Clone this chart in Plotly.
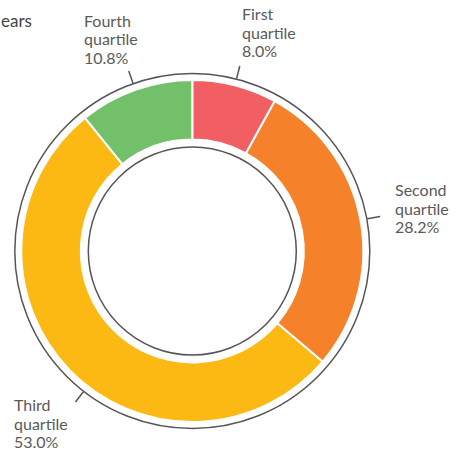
import math
import plotly.graph_objects as go

# ---- data ----
categories = ["First quartile", "Second quartile", "Third quartile", "Fourth quartile"]
shares = [8.0, 28.2, 53.0, 10.8]
colors = ["#F25F63", "#F5822A", "#FDB913", "#73C06B"]
title_fragment = "ears"

# ---- layout / style ----
W, H = 458, 456
CX, CY = 192.3, 251.0        # pie centre in px
R = 171.0                    # slice outer radius in px
HOLE = 0.652
R_OUTER_LINE = 177.5
R_INNER_LINE = 104.0
TICK_R0, TICK_R1 = 178.0, 191.0
LINE_COLOR = "#555555"
TEXT_COLOR = "#5a5a5a"
FONT = "Lato"
FS = 16
LINE_STEP = 18.5
# per label: angle tweak (deg), block left offset from tick end (px), first-baseline offset (px)
label_angle_tweak = [0, 0, -8, 0]
label_dx = [0, 13, -63, -47]
label_dy = [-47, -21, 8, -45]


def px(x):
    return x / W


def py(y):
    return 1 - y / H


fig = go.Figure()
fig.add_trace(go.Pie(
    labels=categories,
    values=shares,
    sort=False,
    direction="clockwise",
    rotation=0,
    hole=HOLE,
    marker=dict(colors=colors, line=dict(color="white", width=2)),
    textinfo="none",
    hoverinfo="label+percent",
    showlegend=False,
    domain=dict(x=[px(CX - R), px(CX + R)], y=[py(CY + R), py(CY - R)]),
))

shapes = []
for r in (R_OUTER_LINE, R_INNER_LINE):
    shapes.append(dict(type="circle", xref="paper", yref="paper",
                       x0=px(CX - r), x1=px(CX + r), y0=py(CY + r), y1=py(CY - r),
                       line=dict(color=LINE_COLOR, width=1.5), fillcolor="rgba(0,0,0,0)"))

annotations = []
total = sum(shares)
cum = 0.0
for i, (cat, v) in enumerate(zip(categories, shares)):
    mid = (cum + v / 2) / total * 360 + label_angle_tweak[i]
    cum += v
    a = math.radians(mid)
    x0, y0 = CX + TICK_R0 * math.sin(a), CY - TICK_R0 * math.cos(a)
    x1, y1 = CX + TICK_R1 * math.sin(a), CY - TICK_R1 * math.cos(a)
    shapes.append(dict(type="line", xref="paper", yref="paper",
                       x0=px(x0), y0=py(y0), x1=px(x1), y1=py(y1),
                       line=dict(color=LINE_COLOR, width=1.5)))
    words = cat.split(" ")
    lines = [words[0], words[1], f"{v:.1f}%"]
    left = x1 + label_dx[i]
    for j, t in enumerate(lines):
        base = y1 + label_dy[i] + j * LINE_STEP
        annotations.append(dict(text=t, xref="paper", yref="paper",
                                x=px(left), y=py(base - 5.5), xanchor="left", yanchor="middle",
                                showarrow=False, font=dict(family=FONT, size=FS, color=TEXT_COLOR)))

annotations.append(dict(text=title_fragment, xref="paper", yref="paper",
                        x=px(-1), y=py(21), xanchor="left", yanchor="middle",
                        showarrow=False, font=dict(family=FONT, size=17, color="#444444")))

fig.update_layout(
    width=W, height=H,
    margin=dict(l=0, r=0, t=0, b=0),
    paper_bgcolor="white", plot_bgcolor="white",
    shapes=shapes, annotations=annotations,
)

fig.write_html("out.html", config={"displayModeBar": False},
               post_script="document.body.style.margin='0';document.body.style.overflow='hidden';")
